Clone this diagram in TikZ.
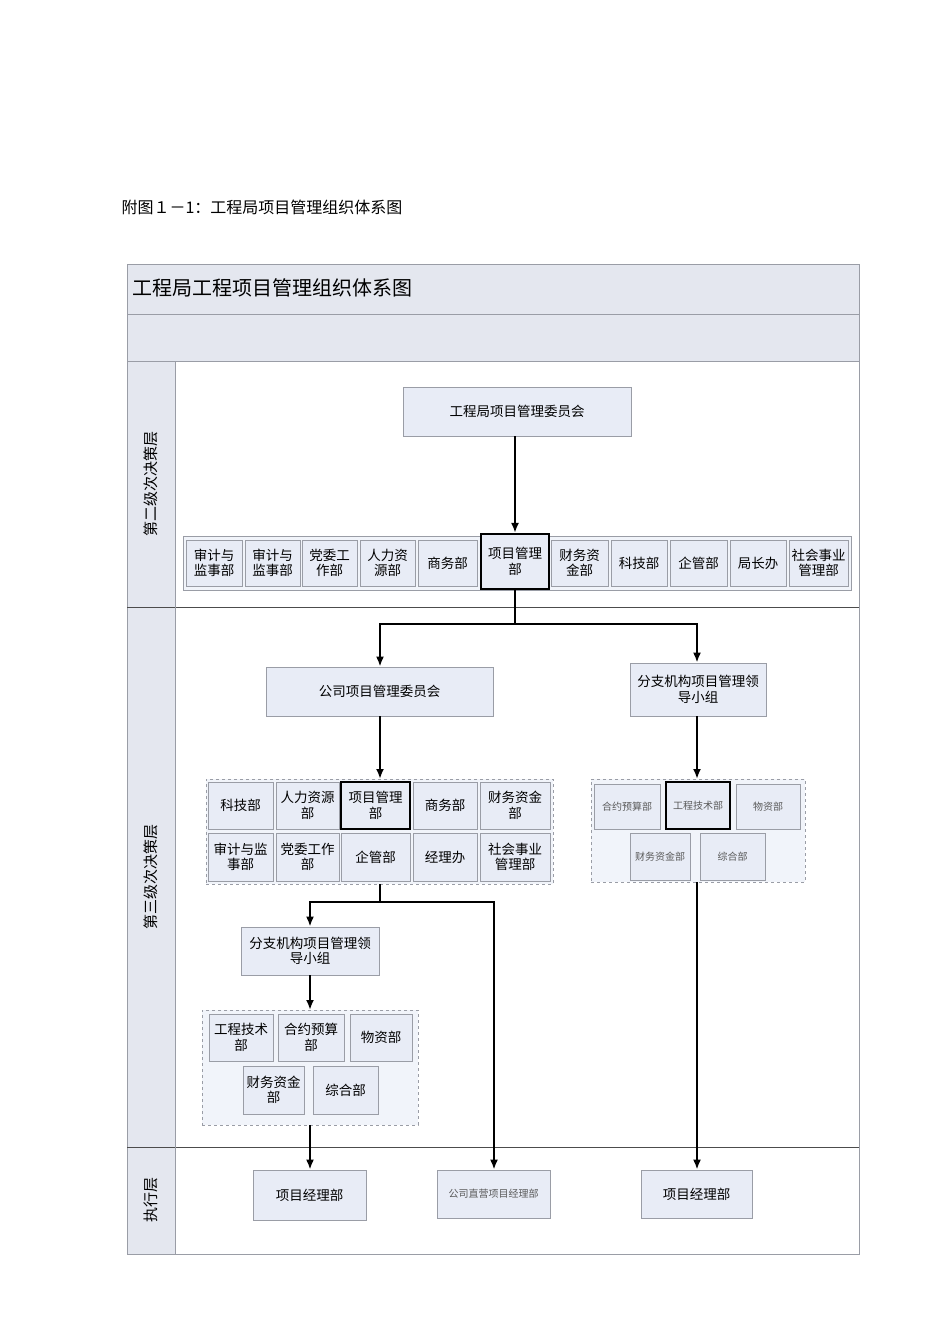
\documentclass[tikz,border=0pt]{standalone}
\usepackage{fontspec}
\setmainfont{Noto Sans CJK SC}
\usetikzlibrary{arrows.meta}
\definecolor{bf}{HTML}{E8ECF6}
\definecolor{hf}{HTML}{E4E7EF}
\definecolor{bd}{HTML}{9A9DA6}
\newcommand\boxn[7][]{\node[bx,#1,minimum width={(#4-#2)*1pt},minimum height={(#5-#3)*1pt}] (#6) at ({(#2+#4)/2},{(#3+#5)/2}) {#7};}
\tikzset{
 bx/.style={draw=bd,fill=bf,line width=0.8pt,inner sep=1pt,align=center,font=\fontsize{13.5}{15.5}\selectfont},
 thk/.style={draw=black,line width=2.2pt},
 sm/.style={font=\fontsize{10}{12}\selectfont,text=black!65},
 grp/.style={draw=bd,fill=bf!60,dashed,line width=0.6pt},
 con/.style={line width=2pt,-{Latex[length=10pt,width=8pt]}},
 ln/.style={line width=2pt}
}
\begin{document}
\begin{tikzpicture}[x=1pt,y=-1pt]
\useasboundingbox (0,0) rectangle (950,1344);
\node[anchor=west,font=\fontsize{16}{18}\selectfont] (cap) at (118,207) {附图１－1：工程局项目管理组织体系图};
% frame
\draw[bd,fill=hf,line width=0.8pt] (127,264) rectangle (859,314);
\draw[bd,fill=hf,line width=0.8pt] (127,314) rectangle (859,361);
\draw[bd,fill=hf,line width=0.8pt] (127,361) rectangle (175,1254);
\draw[bd,line width=0.8pt] (127,264) rectangle (859,1254);
\draw[black!70,line width=0.8pt] (127,607) -- (859,607) (127,1147) -- (859,1147);
\draw[bd,line width=0.8pt] (175,361) -- (175,1254);
\node[anchor=west,font=\fontsize{20}{22}\selectfont] (ttl) at (129,288) {工程局工程项目管理组织体系图};
\node[rotate=90,font=\fontsize{15}{17}\selectfont] (l2) at (151,484) {第二级次决策层};
\node[rotate=90,font=\fontsize{15}{17}\selectfont] (l3) at (151,877) {第三级次决策层};
\node[rotate=90,font=\fontsize{15}{17}\selectfont] (l4) at (151,1200) {执行层};
% level 2
\boxn{403}{387}{631}{436}{top}{工程局项目管理委员会}
\draw[bd,fill=bf!60,line width=0.6pt] (183,536) rectangle (851,590);
\boxn{186}{540}{242}{586}{a1}{审计与\\监事部}
\boxn{245}{540}{300}{586}{a2}{审计与\\监事部}
\boxn{302}{540}{357}{586}{a3}{党委工\\作部}
\boxn{360}{540}{415}{586}{a4}{人力资\\源部}
\boxn{418}{540}{477}{586}{a5}{商务部}
\boxn[thk]{481}{534}{549}{589}{pm}{项目管理\\部}
\boxn{551}{540}{608}{586}{a7}{财务资\\金部}
\boxn{611}{540}{667}{586}{a8}{科技部}
\boxn{670}{540}{727}{586}{a9}{企管部}
\boxn{730}{540}{786}{586}{a10}{局长办}
\boxn{789}{540}{848}{586}{a11}{社会事业\\管理部}
\draw[con] (top.south -| pm.north) -- (pm.north);
% level 3
\boxn{266}{667}{493}{716}{gs}{公司项目管理委员会}
\boxn{630}{663}{766}{716}{fz}{分支机构项目管理领\\导小组}
\draw[ln] (pm.south) -- (515,624);
\draw[con] (380,624) -- (gs.north -| 380,0);
\draw[con] (697,624) -- (fz.north -| 697,0);
\draw[ln] (379,624) -- (698,624);
\node[grp,minimum width=347pt,minimum height=105pt] (g1) at (379.5,831.5) {};
\boxn{208}{782}{273}{829}{b1}{科技部}
\boxn{276}{782}{339}{829}{b2}{人力资源\\部}
\boxn[thk]{341}{782}{410}{829}{b3}{项目管理\\部}
\boxn{413}{782}{477}{829}{b4}{商务部}
\boxn{480}{782}{550}{829}{b5}{财务资金\\部}
\boxn{208}{833}{273}{881}{b6}{审计与监\\事部}
\boxn{276}{833}{339}{881}{b7}{党委工作\\部}
\boxn{341}{833}{410}{881}{b8}{企管部}
\boxn{413}{833}{477}{881}{b9}{经理办}
\boxn{480}{833}{550}{881}{b10}{社会事业\\管理部}
\draw[con] (gs.south -| 380,0) -- (380,779);
\node[grp,minimum width=214pt,minimum height=103pt] (g2) at (698,830.5) {};
\boxn[sm]{594}{784}{660}{829}{c1}{合约预算部}
\boxn[thk,sm]{666}{782}{730}{829}{c2}{工程技术部}
\boxn[sm]{736}{784}{800}{829}{c3}{物资部}
\boxn[sm]{630}{833}{690}{880}{c4}{财务资金部}
\boxn[sm]{700}{833}{765}{880}{c5}{综合部}
\draw[con] (fz.south -| 697,0) -- (697,779);
\boxn{241}{927}{379}{975}{fz2}{分支机构项目管理领\\导小组}
\draw[ln] (380,884) -- (380,902);
\draw[ln] (309,902) -- (495,902);
\draw[con] (310,902) -- (fz2.north -| 310,0);
\node[grp,minimum width=216pt,minimum height=115pt] (g3) at (310,1067.5) {};
\boxn{209}{1014}{273}{1061}{d1}{工程技术\\部}
\boxn{278}{1014}{344}{1061}{d2}{合约预算\\部}
\boxn{350}{1014}{412}{1061}{d3}{物资部}
\boxn{243}{1066}{304}{1114}{d4}{财务资金\\部}
\boxn{313}{1066}{378}{1114}{d5}{综合部}
\draw[con] (310,975) -- (310,1010);
% exec
\boxn{253}{1170}{366}{1220}{e1}{项目经理部}
\boxn[sm]{437}{1170}{550}{1218}{e2}{公司直营项目经理部}
\boxn{641}{1170}{752}{1218}{e3}{项目经理部}
\draw[con] (310,1125) -- (e1.north -| 310,0);
\draw[con] (494,902) -- (e2.north -| 494,0);
\draw[con] (697,882) -- (e3.north -| 697,0);
\end{tikzpicture}
\end{document}
